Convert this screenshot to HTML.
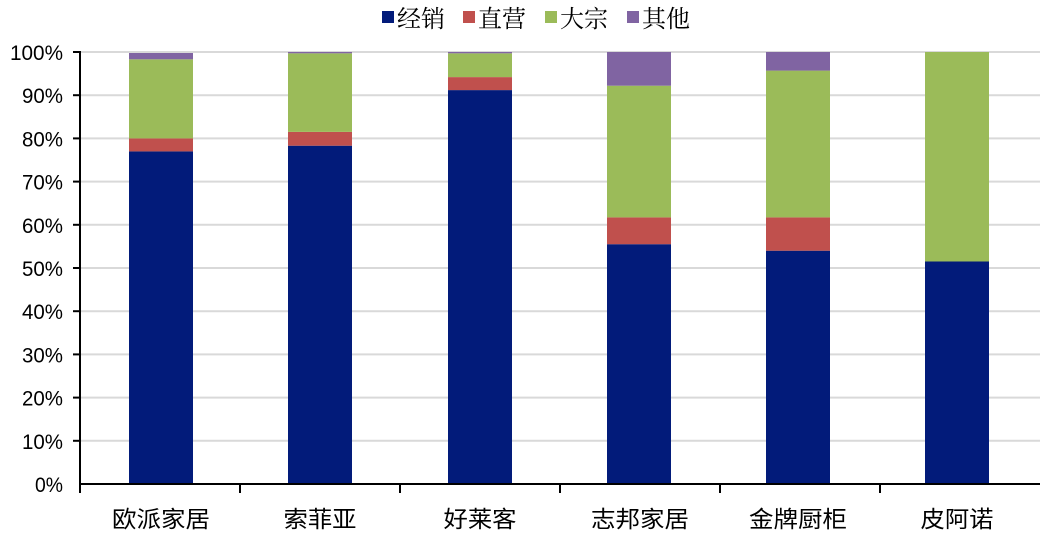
<!DOCTYPE html>
<html><head><meta charset="utf-8"><style>
html,body{margin:0;padding:0;background:#fff;}
svg text{font-family:"Liberation Sans","Noto Sans CJK SC",sans-serif;}
.cn{font-family:"Liberation Serif","Noto Serif CJK SC","Noto Sans CJK SC",serif;font-size:23px;fill:#000;}
.lg{font-family:"Liberation Serif","Noto Serif CJK SC","Noto Sans CJK SC",serif;font-size:24px;fill:#000;}
.tk{font-size:21px;fill:#000;}
</style></head><body>
<svg width="1050" height="536" xmlns="http://www.w3.org/2000/svg">
<g stroke="#d9d9d9" stroke-width="2">
<line x1="80" x2="1040" y1="52" y2="52"/><line x1="80" x2="1040" y1="95.2" y2="95.2"/>
<line x1="80" x2="1040" y1="138.4" y2="138.4"/><line x1="80" x2="1040" y1="181.6" y2="181.6"/>
<line x1="80" x2="1040" y1="224.8" y2="224.8"/><line x1="80" x2="1040" y1="268" y2="268"/>
<line x1="80" x2="1040" y1="311.2" y2="311.2"/><line x1="80" x2="1040" y1="354.4" y2="354.4"/>
<line x1="80" x2="1040" y1="397.6" y2="397.6"/><line x1="80" x2="1040" y1="440.8" y2="440.8"/>
</g>
<g>
<rect x="129" y="151.4" width="64" height="332.6" fill="#021b7a"/>
<rect x="129" y="138.4" width="64" height="13" fill="#c0504d"/>
<rect x="129" y="59.3" width="64" height="79.1" fill="#9bbb59"/>
<rect x="129" y="53" width="64" height="6.3" fill="#8064a2"/>
<rect x="288" y="145.7" width="64" height="338.3" fill="#021b7a"/>
<rect x="288" y="131.9" width="64" height="13.8" fill="#c0504d"/>
<rect x="288" y="53.3" width="64" height="78.6" fill="#9bbb59"/>
<rect x="288" y="52" width="64" height="1.3" fill="#8064a2"/>
<rect x="448" y="90.1" width="64" height="393.9" fill="#021b7a"/>
<rect x="448" y="77.1" width="64" height="13" fill="#c0504d"/>
<rect x="448" y="53.3" width="64" height="23.8" fill="#9bbb59"/>
<rect x="448" y="52" width="64" height="1.3" fill="#8064a2"/>
<rect x="607" y="244.2" width="64" height="239.8" fill="#021b7a"/>
<rect x="607" y="217.4" width="64" height="26.8" fill="#c0504d"/>
<rect x="607" y="85.7" width="64" height="131.7" fill="#9bbb59"/>
<rect x="607" y="52" width="64" height="33.7" fill="#8064a2"/>
<rect x="766" y="250.7" width="64" height="233.3" fill="#021b7a"/>
<rect x="766" y="217.4" width="64" height="33.3" fill="#c0504d"/>
<rect x="766" y="70.6" width="64" height="146.8" fill="#9bbb59"/>
<rect x="766" y="52" width="64" height="18.6" fill="#8064a2"/>
<rect x="925" y="261.5" width="64" height="222.5" fill="#021b7a"/>
<rect x="925" y="52" width="64" height="209.5" fill="#9bbb59"/>
</g>
<g stroke="#000" stroke-width="2">
<line x1="80" y1="51" x2="80" y2="485"/>
<line x1="79" y1="484" x2="1040" y2="484"/>
<line x1="80" y1="484" x2="80" y2="493"/><line x1="240" y1="484" x2="240" y2="493"/>
<line x1="400" y1="484" x2="400" y2="493"/><line x1="560" y1="484" x2="560" y2="493"/>
<line x1="720" y1="484" x2="720" y2="493"/><line x1="880" y1="484" x2="880" y2="493"/>
<line x1="73" x2="80" y1="52" y2="52"/><line x1="73" x2="80" y1="95.2" y2="95.2"/>
<line x1="73" x2="80" y1="138.4" y2="138.4"/><line x1="73" x2="80" y1="181.6" y2="181.6"/>
<line x1="73" x2="80" y1="224.8" y2="224.8"/><line x1="73" x2="80" y1="268" y2="268"/>
<line x1="73" x2="80" y1="311.2" y2="311.2"/><line x1="73" x2="80" y1="354.4" y2="354.4"/>
<line x1="73" x2="80" y1="397.6" y2="397.6"/><line x1="73" x2="80" y1="440.8" y2="440.8"/>
</g>
<g class="tk" text-anchor="end">
<text x="63" y="60" textLength="53" lengthAdjust="spacingAndGlyphs">100%</text>
<text x="63" y="103.2" textLength="41" lengthAdjust="spacingAndGlyphs">90%</text>
<text x="63" y="146.4" textLength="41" lengthAdjust="spacingAndGlyphs">80%</text>
<text x="63" y="189.6" textLength="41" lengthAdjust="spacingAndGlyphs">70%</text>
<text x="63" y="232.8" textLength="41" lengthAdjust="spacingAndGlyphs">60%</text>
<text x="63" y="276" textLength="41" lengthAdjust="spacingAndGlyphs">50%</text>
<text x="63" y="319.2" textLength="41" lengthAdjust="spacingAndGlyphs">40%</text>
<text x="63" y="362.4" textLength="41" lengthAdjust="spacingAndGlyphs">30%</text>
<text x="63" y="405.6" textLength="41" lengthAdjust="spacingAndGlyphs">20%</text>
<text x="63" y="448.8" textLength="41" lengthAdjust="spacingAndGlyphs">10%</text>
<text x="63" y="492" textLength="28" lengthAdjust="spacingAndGlyphs">0%</text>
</g>
<g class="cn" text-anchor="middle">
<text x="161" y="527" textLength="98" lengthAdjust="spacingAndGlyphs">欧派家居</text>
<text x="320" y="527" textLength="73" lengthAdjust="spacingAndGlyphs">索菲亚</text>
<text x="480" y="527" textLength="73" lengthAdjust="spacingAndGlyphs">好莱客</text>
<text x="640" y="527" textLength="98" lengthAdjust="spacingAndGlyphs">志邦家居</text>
<text x="798" y="527" textLength="98" lengthAdjust="spacingAndGlyphs">金牌厨柜</text>
<text x="957" y="527" textLength="73" lengthAdjust="spacingAndGlyphs">皮阿诺</text>
</g>
<rect x="382" y="11" width="12" height="12" fill="#021b7a"/>
<text class="lg" x="397" y="27">经销</text>
<rect x="463" y="11" width="12" height="12" fill="#c0504d"/>
<text class="lg" x="478" y="27">直营</text>
<rect x="545" y="11" width="12" height="12" fill="#9bbb59"/>
<text class="lg" x="560" y="27">大宗</text>
<rect x="627" y="11" width="12" height="12" fill="#8064a2"/>
<text class="lg" x="642" y="27">其他</text>
</svg>
</body></html>
